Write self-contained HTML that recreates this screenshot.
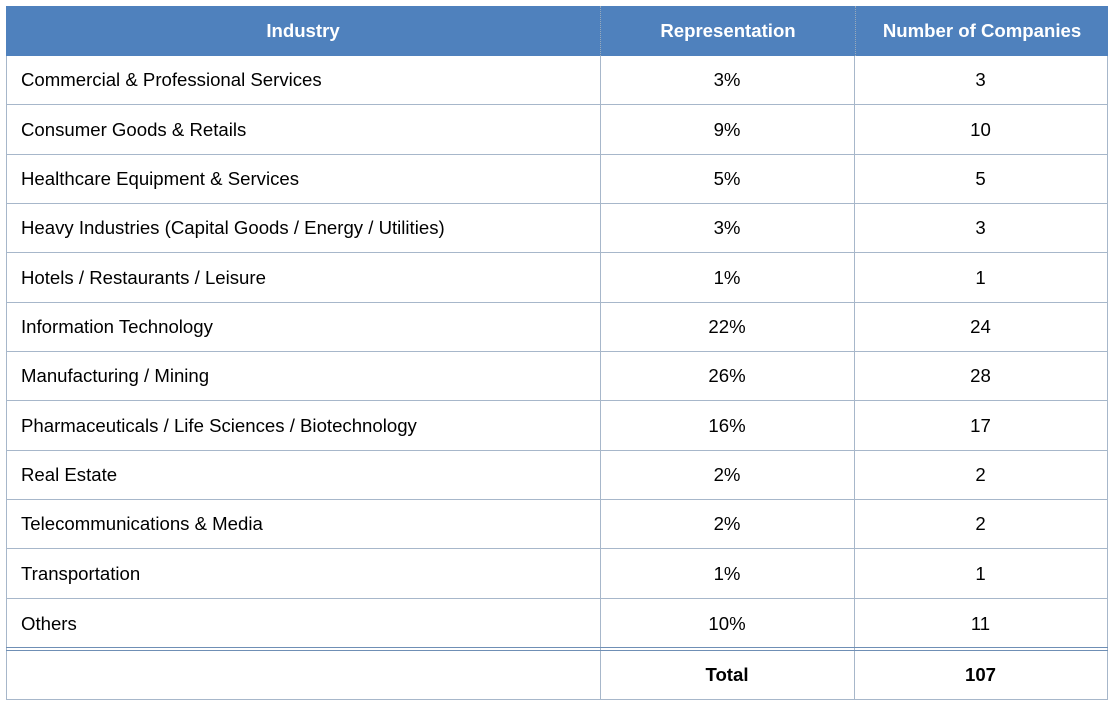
<!DOCTYPE html>
<html><head><style>
body{margin:0;width:1114px;height:707px;background:#fff;position:relative;font-family:"Liberation Sans",Arial,sans-serif;font-size:18.6px;color:#000;overflow:hidden}
.h{position:absolute;top:6px;height:50px;background:#4f81bd;color:#fff;font-weight:bold;display:flex;align-items:center;justify-content:center}
.r{position:absolute;left:6px;width:1101px;height:49.35px;border-bottom:1px solid #a7b7ca;box-sizing:border-box}
.c{position:absolute;top:0;height:100%;display:flex;align-items:center}
.a{left:15px}.b{left:594px;width:254px;justify-content:center}.d{left:848px;width:253px;justify-content:center}
.v{position:absolute;top:56px;width:1px;height:644px;background:#a7b7ca}
</style></head><body>
<div class="h" style="left:6px;width:594px">Industry</div>
<div class="h" style="left:600px;width:254px;border-left:1px dotted #9ab">Representation</div>
<div class="h" style="left:855px;width:252px;border-left:1px dotted #9ab">Number of Companies</div>
<div id="rows"></div>
<div class="v" style="left:6px"></div><div class="v" style="left:600px"></div><div class="v" style="left:854px"></div><div class="v" style="left:1107px"></div>
<div style="position:absolute;left:6px;top:647px;width:1102px;height:1px;background:#6f8fb5"></div>
<div style="position:absolute;left:6px;top:650px;width:1102px;height:1px;background:#6f8fb5"></div>
<div style="position:absolute;left:6px;top:699px;width:1102px;height:1px;background:#a7b7ca"></div>
<div style="position:absolute;left:600px;top:651px;width:254px;height:48px;display:flex;align-items:center;justify-content:center;font-weight:bold">Total</div>
<div style="position:absolute;left:854px;top:651px;width:253px;height:48px;display:flex;align-items:center;justify-content:center;font-weight:bold">107</div>
<script>
var d=[["Commercial & Professional Services","3%","3"],["Consumer Goods & Retails","9%","10"],["Healthcare Equipment & Services","5%","5"],["Heavy Industries (Capital Goods / Energy / Utilities)","3%","3"],["Hotels / Restaurants / Leisure","1%","1"],["Information Technology","22%","24"],["Manufacturing / Mining","26%","28"],["Pharmaceuticals / Life Sciences / Biotechnology","16%","17"],["Real Estate","2%","2"],["Telecommunications & Media","2%","2"],["Transportation","1%","1"],["Others","10%","11"]];
var h="";d.forEach(function(x,i){var last=i==11;h+='<div class="r" style="top:'+(56+i*49.35)+'px;'+(last?'border-bottom:none':'')+'"><div class="c a">'+x[0].replace(/&/g,'&amp;')+'</div><div class="c b">'+x[1]+'</div><div class="c d">'+x[2]+'</div></div>';});
document.getElementById("rows").innerHTML=h;
</script>
</body></html>
